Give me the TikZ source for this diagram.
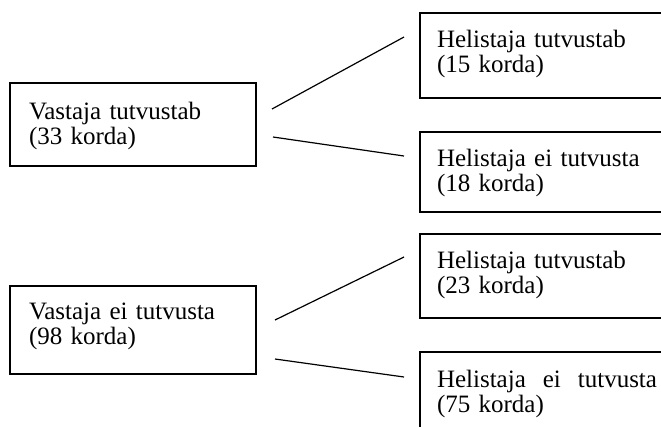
\documentclass[tikz,border=0pt]{standalone}
\usepackage{fontspec}
\setmainfont{Liberation Serif}
\usepackage{tikz}
\definecolor{tint}{HTML}{000000}
\tikzset{
  kast/.style={draw=tint,line width=1.2bp,rectangle,anchor=base west,align=left,inner xsep=19bp,inner ysep=0pt,outer sep=0pt,font=\fontsize{25bp}{25.5bp}\selectfont},
  vasak/.style={kast,text width=208bp},
  parem/.style={kast,inner xsep=17bp,text width=226bp},
  haru/.style={draw=tint,line width=1.2bp},
}

\begin{document}
\begin{tikzpicture}[x=1bp,y=-1bp]
\useasboundingbox (0,0) rectangle (661,426);
\clip (0,0) rectangle (661,426);
\node[vasak,text height=36bp,text depth=47bp] (v1) at (10,119) {Vastaja tutvustab\\(33 korda)};
\node[parem,text height=34bp,text depth=51bp] (h11) at (420,47) {Helistaja tutvustab\\(15 korda)};
\node[parem,text height=34bp,text depth=46bp] (h12) at (420,166) {Helistaja ei tutvusta\\(18 korda)};
\node[vasak,text height=33bp,text depth=55bp] (v2) at (10,319) {Vastaja ei tutvusta\\(98 korda)};
\node[parem,text height=34bp,text depth=50bp] (h21) at (420,268) {Helistaja tutvustab\\(23 korda)};
\node[parem,text height=35bp,text depth=53bp] (h22) at (420,387) {\makebox[220bp][l]{Helistaja\hfill ei\hfill tutvusta}\\(75 korda)};
\draw[haru] ([xshift=16bp,yshift=15.5bp]v1.east) -- ([xshift=-16bp,yshift=18.5bp]h11.west);
\draw[haru] ([xshift=17bp,yshift=-12.5bp]v1.east) -- ([xshift=-16bp,yshift=16bp]h12.west);
\draw[haru] ([xshift=19bp,yshift=10bp]v2.east) -- ([xshift=-16bp,yshift=19bp]h21.west);
\draw[haru] ([xshift=19bp,yshift=-29bp]v2.east) -- ([xshift=-16bp,yshift=19bp]h22.west);
\end{tikzpicture}
\end{document}
